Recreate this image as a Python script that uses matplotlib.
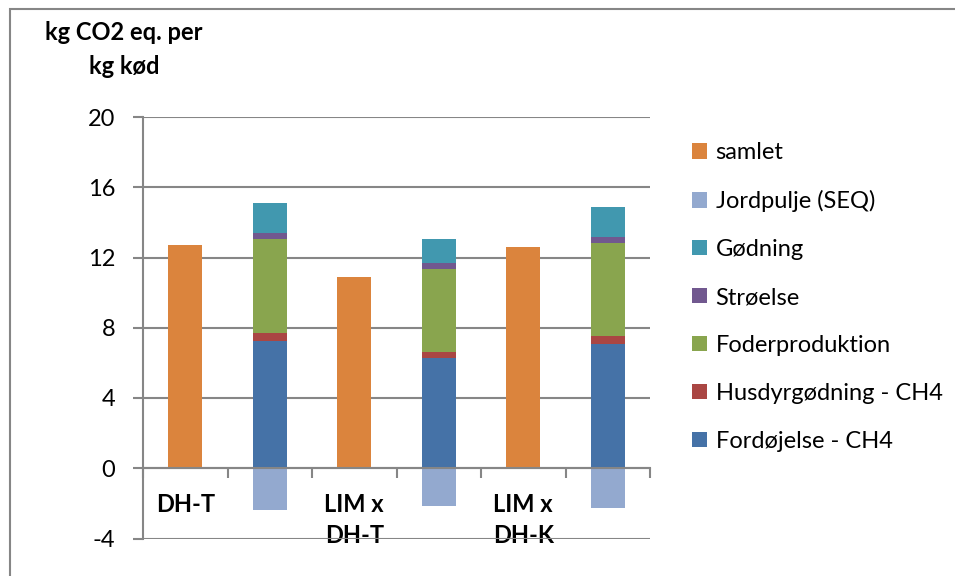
import numpy as np
import matplotlib.pyplot as plt
from matplotlib.patches import Patch, Rectangle

plt.rcParams['font.family'] = ['Lato', 'DejaVu Sans']

# data
categories = ["DH-T", "", "LIM x\nDH-T", "", "LIM x\nDH-K", ""]
samlet = [12.7, 0, 10.9, 0, 12.6, 0]
fordoejelse = [0, 7.26, 0, 6.29, 0, 7.05]
husdyr = [0, 0.44, 0, 0.34, 0, 0.46]
foder = [0, 5.36, 0, 4.72, 0, 5.32]
stroelse = [0, 0.36, 0, 0.31, 0, 0.34]
goedning = [0, 1.69, 0, 1.40, 0, 1.68]
jordpulje = [0, -2.39, 0, -2.13, 0, -2.24]

yticks = [-4, 0, 4, 8, 12, 16, 20]

col = {
    'samlet': '#DB843D',
    'Jordpulje (SEQ)': '#93A9CF',
    'Gødning': '#4198AF',
    'Strøelse': '#71588F',
    'Foderproduktion': '#89A54E',
    'Husdyrgødning - CH4': '#AA4643',
    'Fordøjelse - CH4': '#4572A7',
}
grey = '#868686'
fs = 17

fig = plt.figure(figsize=(9.55, 5.76), dpi=100)
ax = fig.add_axes([143 / 955, 1 - 538.5 / 576, 507 / 955, 421.5 / 576])

x = np.arange(len(categories))
w = 0.4

# stacked positive parts
bottom = np.zeros(len(x))
stack = [('Fordøjelse - CH4', fordoejelse), ('Husdyrgødning - CH4', husdyr),
         ('Foderproduktion', foder), ('Strøelse', stroelse), ('Gødning', goedning)]
for name, vals in stack:
    vals = np.array(vals, dtype=float)
    ax.bar(x, vals, w, bottom=bottom, color=col[name], linewidth=0, zorder=2)
    bottom += vals
ax.bar(x, jordpulje, w, color=col['Jordpulje (SEQ)'], linewidth=0, zorder=2)
ax.bar(x, samlet, w, color=col['samlet'], linewidth=0, zorder=2)

ax.set_xlim(-0.5, len(x) - 0.5)
ax.set_ylim(-4, 20)
ax.set_yticks(yticks)
ax.set_yticklabels([str(v) for v in yticks], fontsize=fs)
ax.yaxis.grid(True, color=grey, linewidth=1.5)
ax.set_axisbelow(True)

for s in ['top', 'right']:
    ax.spines[s].set_visible(False)
ax.spines['left'].set_color(grey)
ax.spines['left'].set_linewidth(1.5)
ax.spines['bottom'].set_position(('data', 0))
ax.spines['bottom'].set_color(grey)
ax.spines['bottom'].set_linewidth(1.5)
ax.spines['bottom'].set_zorder(3)

ax.tick_params(axis='y', length=7, width=1.5, color=grey, pad=13)
ax.set_xticks(np.arange(-0.5, len(x), 1.0))
ax.set_xticklabels([])
ax.tick_params(axis='x', which='major', length=7, width=1.5, color=grey)
ax.set_xticks(x, minor=True)
ax.set_xticklabels(categories, minor=True, fontsize=fs, fontweight='bold',
                   linespacing=1.42)
ax.tick_params(axis='x', which='minor', length=0, pad=18)

fig.text(124 / 955, 1 - 21 / 576, "kg CO2 eq. per\nkg kød", ha='center', va='top',
         fontsize=fs, fontweight='bold', linespacing=1.6)

order = ['samlet', 'Jordpulje (SEQ)', 'Gødning', 'Strøelse', 'Foderproduktion',
         'Husdyrgødning - CH4', 'Fordøjelse - CH4']
handles = [Patch(facecolor=col[n], edgecolor='none') for n in order]
fig.legend(handles, order, loc='center left', bbox_to_anchor=(692 / 955, 1 - 297 / 576),
           frameon=False, fontsize=fs, handlelength=0.62, handleheight=0.62,
           handletextpad=0.38, labelspacing=1.14, borderpad=0, borderaxespad=0)

# outer chart border (left and top visible)
fig.patches.append(Rectangle((10 / 955, -0.1), 2, 1.1 - 9 / 576, transform=fig.transFigure,
                             fill=False, edgecolor=grey, linewidth=1.5))

fig.savefig('out.png', dpi=100)
